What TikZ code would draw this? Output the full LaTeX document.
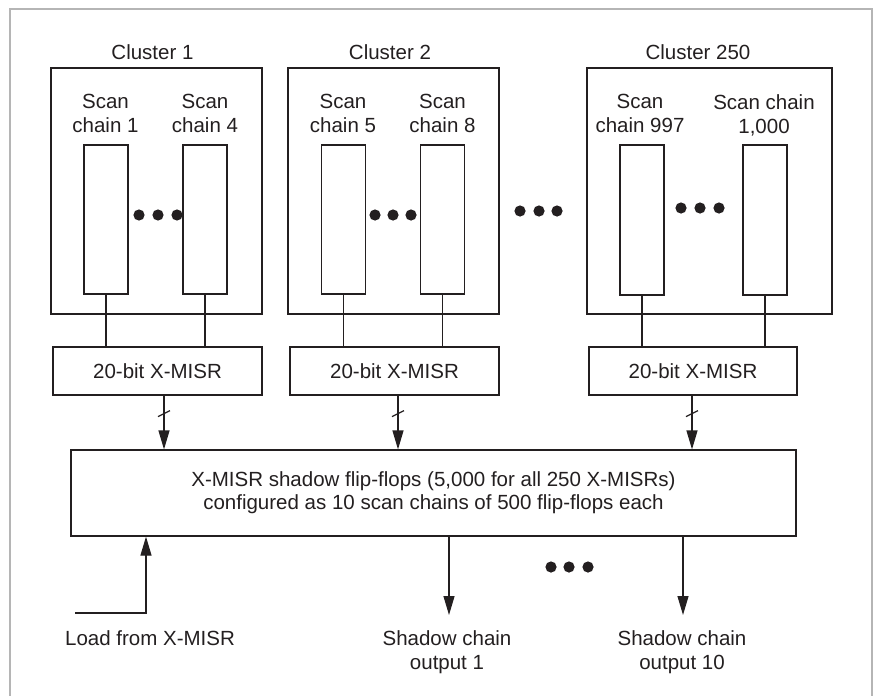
\documentclass[tikz,border=0pt]{standalone}
\usepackage{fontspec}
\setmainfont{Liberation Sans}
\usetikzlibrary{arrows.meta}
\definecolor{ink}{HTML}{231F20}
\definecolor{framegray}{HTML}{B5B5B5}
\tikzset{
  box/.style={draw=ink, line width=1.2pt, inner sep=0pt, fill=none},
  lbl/.style={text=ink, inner sep=0pt, align=center,
              font=\fontsize{20.5}{24}\selectfont},
  wire/.style={draw=ink, line width=1.2pt},
  arr/.style={wire, -{Triangle[length=19pt, width=11pt]}},
  dotmark/.style={fill=ink, draw=none},
}
\begin{document}
\begin{tikzpicture}[x=1pt, y=-1pt]
\useasboundingbox (0,0) rectangle (873,696);
% outer frame
\draw[framegray, line width=1.5pt] (10,696) -- (10,9) -- (872,9) -- (872,696);

% clusters
\node[box, minimum width=211pt, minimum height=246pt] (c1) at (156.5,191) {};
\node[box, minimum width=211pt, minimum height=246pt] (c2) at (393.5,191) {};
\node[box, minimum width=245pt, minimum height=246pt] (c3) at (709.5,191) {};
\node[lbl, anchor=north] (c1l) at (152.5,44) {Cluster 1};
\node[lbl, anchor=north] (c2l) at (390,44) {Cluster 2};
\node[lbl, anchor=north] (c3l) at (698,44) {Cluster 250};

% scan chains
\node[box, minimum width=44pt, minimum height=149pt] (s1) at (106,219.5) {};
\node[box, minimum width=44pt, minimum height=149pt] (s4) at (205,219.5) {};
\node[box, minimum width=44pt, minimum height=149pt] (s5) at (343.5,219.5) {};
\node[box, minimum width=44pt, minimum height=149pt] (s8) at (442.5,219.5) {};
\node[box, minimum width=44pt, minimum height=150pt] (s997) at (642,220) {};
\node[box, minimum width=44pt, minimum height=150pt] (s1000) at (765,220) {};
\node[lbl, anchor=north] (s1l) at (105.5,94) {Scan\\chain 1};
\node[lbl, anchor=north] (s4l) at (205,94) {Scan\\chain 4};
\node[lbl, anchor=north] (s5l) at (343,94) {Scan\\chain 5};
\node[lbl, anchor=north] (s8l) at (442.5,94) {Scan\\chain 8};
\node[lbl, anchor=north] (s997l) at (640,94) {Scan\\chain 997};
\node[lbl, anchor=north] (s1000l) at (764,94) {Scan chain\\1,000};

% ellipsis dots
\foreach \cx/\cy in {139/215, 158/215, 177/215,
                     375/215, 393/215, 411/215,
                     520/211, 539/211, 557/211,
                     681/208, 700/208, 719/208,
                     551/567, 569/567, 588/567}
  \fill[dotmark] (\cx,\cy) circle (5.6pt);

% X-MISRs
\node[box, minimum width=209pt, minimum height=48pt, lbl] (m1) at (157.5,371) {20-bit X-MISR};
\node[box, minimum width=209pt, minimum height=48pt, lbl] (m2) at (394.5,371) {20-bit X-MISR};
\node[box, minimum width=208pt, minimum height=48pt, lbl] (m3) at (693,371) {20-bit X-MISR};

% chain to X-MISR wires
\foreach \s/\m in {s1/m1, s4/m1, s5/m2, s8/m2, s997/m3, s1000/m3}
  \draw[wire] (\s.south) -- (\s.south |- \m.north);

% shadow flip-flops
\node[box, minimum width=725pt, minimum height=86pt, lbl, font=\fontsize{20.5}{23}\selectfont] (big) at (433.5,493)
  {X-MISR shadow flip-flops (5,000 for all 250 X-MISRs)\\configured as 10 scan chains of 500 flip-flops each};

% X-MISR outputs into the shadow flip-flops, with bus slashes
\coordinate (b1) at ([xshift=6.5pt]m1.south);
\coordinate (b2) at ([xshift=3.5pt]m2.south);
\coordinate (b3) at ([xshift=-1pt]m3.south);
\foreach \b in {b1, b2, b3} {
  \draw[arr] (\b) -- (\b |- big.north);
  \draw[wire] (\b) ++(-6,21) -- ++(12,-6);
}

% load input
\coordinate (ld) at (75,613);
\coordinate (lt) at (146,613);
\draw[arr] (ld) -- (lt) -- (lt |- big.south);
\node[lbl, anchor=north] (ldl) at (150,630) {Load from X-MISR};

% shadow chain outputs
\coordinate (o1) at (449,615);
\coordinate (o10) at (683,615);
\draw[arr] (big.south -| o1) -- (o1);
\draw[arr] (big.south -| o10) -- (o10);
\node[lbl, anchor=north] (o1l) at (447,630) {Shadow chain\\output 1};
\node[lbl, anchor=north] (o10l) at (682,630) {Shadow chain\\output 10};
\end{tikzpicture}
\end{document}
